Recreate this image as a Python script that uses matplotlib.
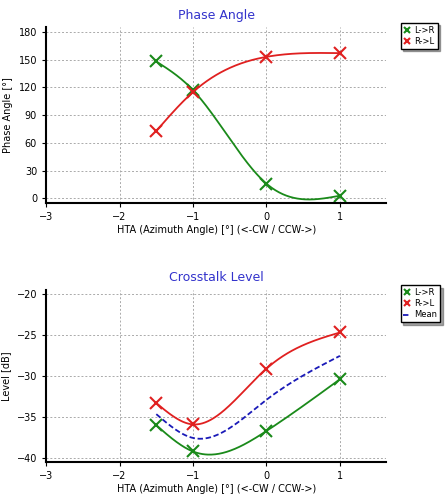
import numpy as np
import matplotlib
matplotlib.use("Agg")
import matplotlib.pyplot as plt

x = [-1.5, -1.0, 0.0, 1.0]
phase_lr = [148, 117, 16, 3]
phase_rl = [73, 115, 153, 157]
xt_lr = [-36.0, -39.2, -36.7, -30.4]
xt_rl = [-33.3, -35.9, -29.1, -24.7]
xt_mean = [(a + b) / 2 for a, b in zip(xt_lr, xt_rl)]

def spline(xs, ys, n=200):
    xs = np.asarray(xs, float); ys = np.asarray(ys, float)
    m = len(xs); h = np.diff(xs)
    A = np.zeros((m, m)); r = np.zeros(m)
    A[0, 0] = A[-1, -1] = 1
    for i in range(1, m - 1):
        A[i, i - 1] = h[i - 1]; A[i, i] = 2 * (h[i - 1] + h[i]); A[i, i + 1] = h[i]
        r[i] = 6 * ((ys[i + 1] - ys[i]) / h[i] - (ys[i] - ys[i - 1]) / h[i - 1])
    M = np.linalg.solve(A, r)
    xx = np.linspace(xs[0], xs[-1], n); yy = np.empty_like(xx)
    for k, t in enumerate(xx):
        i = min(np.searchsorted(xs, t, side='right') - 1, m - 2)
        a = xs[i + 1] - t; b = t - xs[i]
        yy[k] = (M[i] * a**3 + M[i + 1] * b**3) / (6 * h[i]) + (ys[i] / h[i] - M[i] * h[i] / 6) * a + (ys[i + 1] / h[i] - M[i + 1] * h[i] / 6) * b
    return xx, yy

G = '#1a8a1a'; R = '#e02020'; B = '#1a1ab8'
fig = plt.figure(figsize=(4.48, 5.04), dpi=100)
ax1 = fig.add_axes([0.103, 0.597, 0.759, 0.349])
ax2 = fig.add_axes([0.103, 0.083, 0.759, 0.342])

def style(ax, title, ylabel):
    ax.set_xlim(-3, 1.63)
    ax.set_xticks([-3, -2, -1, 0, 1])
    ax.grid(True, linestyle=(0, (2, 2)), color='#aaaaaa', linewidth=0.7)
    ax.set_title(title, color='#3333cc', fontsize=9)
    ax.set_ylabel(ylabel, fontsize=7)
    ax.set_xlabel('HTA (Azimuth Angle) [°] (<-CW / CCW->)', fontsize=7, labelpad=2)
    ax.tick_params(labelsize=7, length=3)
    for s in ['top', 'right']:
        ax.spines[s].set_visible(False)
    ax.spines['left'].set_linewidth(1.5); ax.spines['bottom'].set_linewidth(1.5)

for ys, c, lab in [(phase_lr, G, 'L->R'), (phase_rl, R, 'R->L')]:
    xx, yy = spline(x, ys)
    ax1.plot(xx, yy, color=c, lw=1.3)
    ax1.plot(x, ys, 'x', color=c, ms=8, mew=1.5, label=lab)
style(ax1, 'Phase Angle', 'Phase Angle [°]')
ax1.set_ylim(-5, 185); ax1.set_yticks(range(0, 181, 30))

for ys, c, lab in [(xt_lr, G, 'L->R'), (xt_rl, R, 'R->L')]:
    xx, yy = spline(x, ys)
    ax2.plot(xx, yy, color=c, lw=1.3)
    ax2.plot(x, ys, 'x', color=c, ms=8, mew=1.5, label=lab)
xx, yy = spline(x, xt_mean)
ax2.plot(xx, yy, color=B, lw=1.3, ls=(0, (3, 1.5)), label='Mean')
style(ax2, 'Crosstalk Level', 'Level [dB]')
ax2.set_ylim(-40.5, -19.5); ax2.set_yticks(range(-40, -19, 5))

for ax in (ax1, ax2):
    h, l = ax.get_legend_handles_labels()
    ax.legend(h, l, loc='upper left', bbox_to_anchor=(1.03, 1.05), fontsize=6, frameon=True,
              fancybox=False, shadow=True, edgecolor='black', handlelength=0.8,
              handletextpad=0.5, borderpad=0.35, labelspacing=0.25, markerscale=0.6)
fig.savefig('out.png', dpi=100)
